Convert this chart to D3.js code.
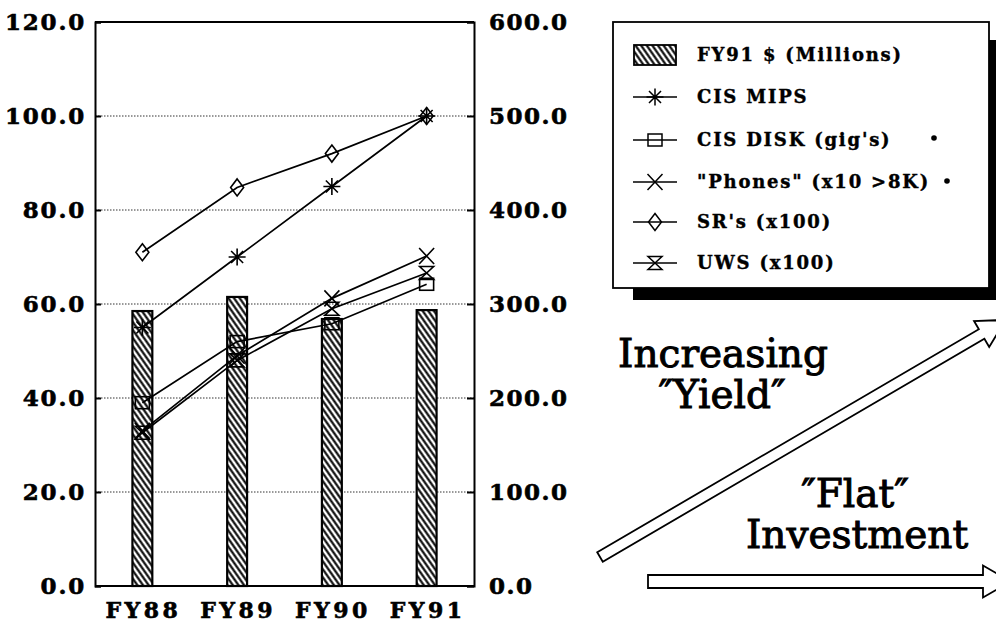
<!DOCTYPE html>
<html>
<head>
<meta charset="utf-8">
<script src="https://cdn.jsdelivr.net/npm/d3@7"></script>
<style>
  html, body { margin: 0; padding: 0; background: #fff; }
  svg { display: block; }
</style>
</head>
<body>
<svg id="chart" width="996" height="625"></svg>
<script>
// ---- data ----
const categories = ["FY88", "FY89", "FY90", "FY91"];
const budget = [58.5, 61.5, 56.8, 58.7];          // FY91 $ (Millions), left axis
const mips   = [275, 350, 425, 500];              // CIS MIPS, right axis
const disk   = [195, 260, 279, 321];              // CIS DISK (gig's)
const phones = [165, 245, 306, 351];              // "Phones" (x10 >8K)
const srs    = [355, 424, 460, 500];              // SR's (x100)
const uws    = [163, 240, 295, 333];              // UWS (x100)
const leftTicks  = [0, 20, 40, 60, 80, 100, 120];
const rightTicks = [0, 100, 200, 300, 400, 500, 600];
const legendLabels = ["FY91 $ (Millions)", "CIS MIPS", "CIS DISK (gig's)", "\"Phones\" (x10 >8K)", "SR's (x100)", "UWS (x100)"];

const svg = d3.select("#chart");
const plot = { left: 95, right: 474, top: 22, bottom: 586 };

const x = d3.scaleBand().domain(categories).range([plot.left, plot.right]).paddingInner(0).paddingOuter(0);
const yL = d3.scaleLinear().domain([0, 120]).range([plot.bottom, plot.top]);
const yR = d3.scaleLinear().domain([0, 600]).range([plot.bottom, plot.top]);

const FONT = "'DejaVu Serif', serif";

// hatch pattern
const defs = svg.append("defs");
const pat = defs.append("pattern").attr("id", "hatch")
  .attr("patternUnits", "userSpaceOnUse").attr("width", 4.6).attr("height", 10)
  .attr("patternTransform", "rotate(-35)");
pat.append("rect").attr("width", 4.6).attr("height", 10).attr("fill", "#fff");
pat.append("line").attr("x1", 2.3).attr("y1", 0).attr("x2", 2.3).attr("y2", 10)
  .attr("stroke", "#000").attr("stroke-width", 2.1);

// gridlines (dotted)
svg.append("g").selectAll("line").data(leftTicks.filter(d => d > 0 && d < 120)).join("line")
  .attr("x1", plot.left).attr("x2", plot.right)
  .attr("y1", d => yL(d)).attr("y2", d => yL(d))
  .attr("stroke", "#333").attr("stroke-width", 1).attr("stroke-dasharray", "1.5,1.5");

function styleTickText(sel, size, ls) {
  sel.attr("font-family", FONT).attr("font-weight", "bold")
    .attr("font-size", size).attr("letter-spacing", ls).attr("fill", "#000")
    .attr("stroke", "#000").attr("stroke-width", 0.6);
}

// left axis
const axL = svg.append("g").attr("transform", `translate(${plot.left},0)`)
  .call(d3.axisLeft(yL).tickValues(leftTicks).tickSize(-6).tickPadding(9).tickFormat(d3.format(".1f")));
axL.select(".domain").attr("stroke-width", 2);
axL.selectAll(".tick line").attr("stroke-width", 2);
axL.selectAll("text").call(styleTickText, 23, 1.8);

// right axis
const axR = svg.append("g").attr("transform", `translate(${plot.right},0)`)
  .call(d3.axisRight(yR).tickValues(rightTicks).tickSize(-7).tickPadding(15).tickFormat(d3.format(".1f")));
axR.select(".domain").attr("stroke-width", 2);
axR.selectAll(".tick line").attr("stroke-width", 2);
axR.selectAll("text").call(styleTickText, 23, 1.5);

// frame top / bottom
svg.append("line").attr("x1", plot.left).attr("x2", plot.right).attr("y1", plot.top).attr("y2", plot.top)
  .attr("stroke", "#000").attr("stroke-width", 2);
svg.append("line").attr("x1", plot.left).attr("x2", plot.right).attr("y1", plot.bottom).attr("y2", plot.bottom)
  .attr("stroke", "#000").attr("stroke-width", 2);

// x axis labels
const axB = svg.append("g").attr("transform", `translate(0,${plot.bottom})`)
  .call(d3.axisBottom(x).tickSize(0).tickPadding(16));
axB.select(".domain").remove();
axB.selectAll("text").call(styleTickText, 22, 3.5).attr("dx", 1);

// bars
const barW = x.bandwidth() * 0.21;
svg.append("g").selectAll("rect").data(budget).join("rect")
  .attr("x", (d, i) => x(categories[i]) + x.bandwidth() / 2 - barW / 2)
  .attr("width", barW)
  .attr("y", d => yL(d))
  .attr("height", d => yL(0) - yL(d))
  .attr("fill", "url(#hatch)").attr("stroke", "#000").attr("stroke-width", 2.2);

// marker shapes
const markers = {
  asterisk: (g) => {
    const r = 8.5, p = d3.path();
    for (let k = 0; k < 4; k++) {
      const a = k * Math.PI / 4;
      p.moveTo(-r * Math.cos(a), -r * Math.sin(a)); p.lineTo(r * Math.cos(a), r * Math.sin(a));
    }
    g.append("path").attr("d", p.toString());
  },
  square: (g) => { g.append("rect").attr("x", -7).attr("y", -6).attr("width", 14).attr("height", 12); },
  cross: (g) => { g.append("path").attr("d", "M-7.5,-8L7.5,8M-7.5,8L7.5,-8"); },
  diamond: (g) => { g.append("path").attr("d", "M0,-8.5L6.5,0L0,8.5L-6.5,0Z"); },
  hourglass: (g) => { g.append("path").attr("d", "M-7,-6.5L7,-6.5L-7,6.5L7,6.5Z"); }
};

const series = [
  { values: mips, shape: "asterisk" },
  { values: disk, shape: "square" },
  { values: phones, shape: "cross" },
  { values: srs, shape: "diamond" },
  { values: uws, shape: "hourglass" }
];

const line = d3.line().x((d, i) => x(categories[i]) + x.bandwidth() / 2).y(d => yR(d));
series.forEach(s => {
  svg.append("path").attr("d", line(s.values)).attr("fill", "none")
    .attr("stroke", "#000").attr("stroke-width", 1.7);
  s.values.forEach((v, i) => {
    const g = svg.append("g")
      .attr("transform", `translate(${x(categories[i]) + x.bandwidth() / 2},${yR(v)})`)
      .attr("fill", "none").attr("stroke", "#000").attr("stroke-width", 1.6);
    markers[s.shape](g);
  });
});

// legend
const lg = svg.append("g");
lg.append("rect").attr("x", 633).attr("y", 40).attr("width", 380).attr("height", 260).attr("fill", "#000");
lg.append("rect").attr("x", 613).attr("y", 22).attr("width", 376).attr("height", 266)
  .attr("fill", "#fff").attr("stroke", "#000").attr("stroke-width", 1.8);
const rowY = [55, 97, 140, 182, 222, 263];
legendLabels.forEach((lab, i) => {
  const cy = rowY[i];
  if (i === 0) {
    lg.append("rect").attr("x", 634).attr("y", cy - 10).attr("width", 42).attr("height", 20)
      .attr("fill", "url(#hatch)").attr("stroke", "#000").attr("stroke-width", 1.8);
  } else {
    lg.append("line").attr("x1", 633).attr("x2", 677).attr("y1", cy).attr("y2", cy)
      .attr("stroke", "#000").attr("stroke-width", 1.6);
    const g = lg.append("g").attr("transform", `translate(655,${cy})`)
      .attr("fill", "none").attr("stroke", "#000").attr("stroke-width", 1.5);
    markers[series[i - 1].shape](g);
  }
  lg.append("text").attr("x", 697).attr("y", cy).attr("dy", "0.35em")
    .attr("font-family", FONT).attr("font-weight", "bold").attr("font-size", 18)
    .attr("letter-spacing", 1.8).attr("stroke", "#000").attr("stroke-width", 0.4).text(lab);
});
// asterisk notes
[[138, 934], [181, 947]].forEach(([cy, cx]) => {
  lg.append("circle").attr("cx", cx).attr("cy", cy).attr("r", 2.8).attr("fill", "#000");
});

// arrows
function arrowPoly(L, sh, hl, hh) {
  return [[0, -sh], [L, -sh], [L, -hh], [L + hl, 0], [L, hh], [L, sh], [0, sh]];
}
const arrowStyle = g => g.attr("fill", "#fff").attr("stroke", "#000").attr("stroke-width", 1.8).attr("stroke-linejoin", "miter");
svg.append("polygon").attr("points", arrowPoly(442, 5.5, 28, 15).map(p => p.join(",")).join(" "))
  .attr("transform", "translate(600,557) rotate(-30.3)").call(arrowStyle);
svg.append("polygon").attr("points", arrowPoly(335, 6.5, 28, 16).map(p => p.join(",")).join(" "))
  .attr("transform", "translate(648,581.5)").call(arrowStyle);

// annotation text
function ann(xc, yb, s) {
  svg.append("text").attr("x", xc).attr("y", yb).attr("text-anchor", "middle")
    .attr("font-family", FONT).attr("font-size", 39).attr("fill", "#000")
    .attr("stroke", "#000").attr("stroke-width", 1).text(s);
}
ann(723, 367, "Increasing");
ann(722, 408, "\u2033Yield\u2033");
ann(855, 507, "\u2033Flat\u2033");
ann(857, 548, "Investment");
</script>
</body>
</html>
